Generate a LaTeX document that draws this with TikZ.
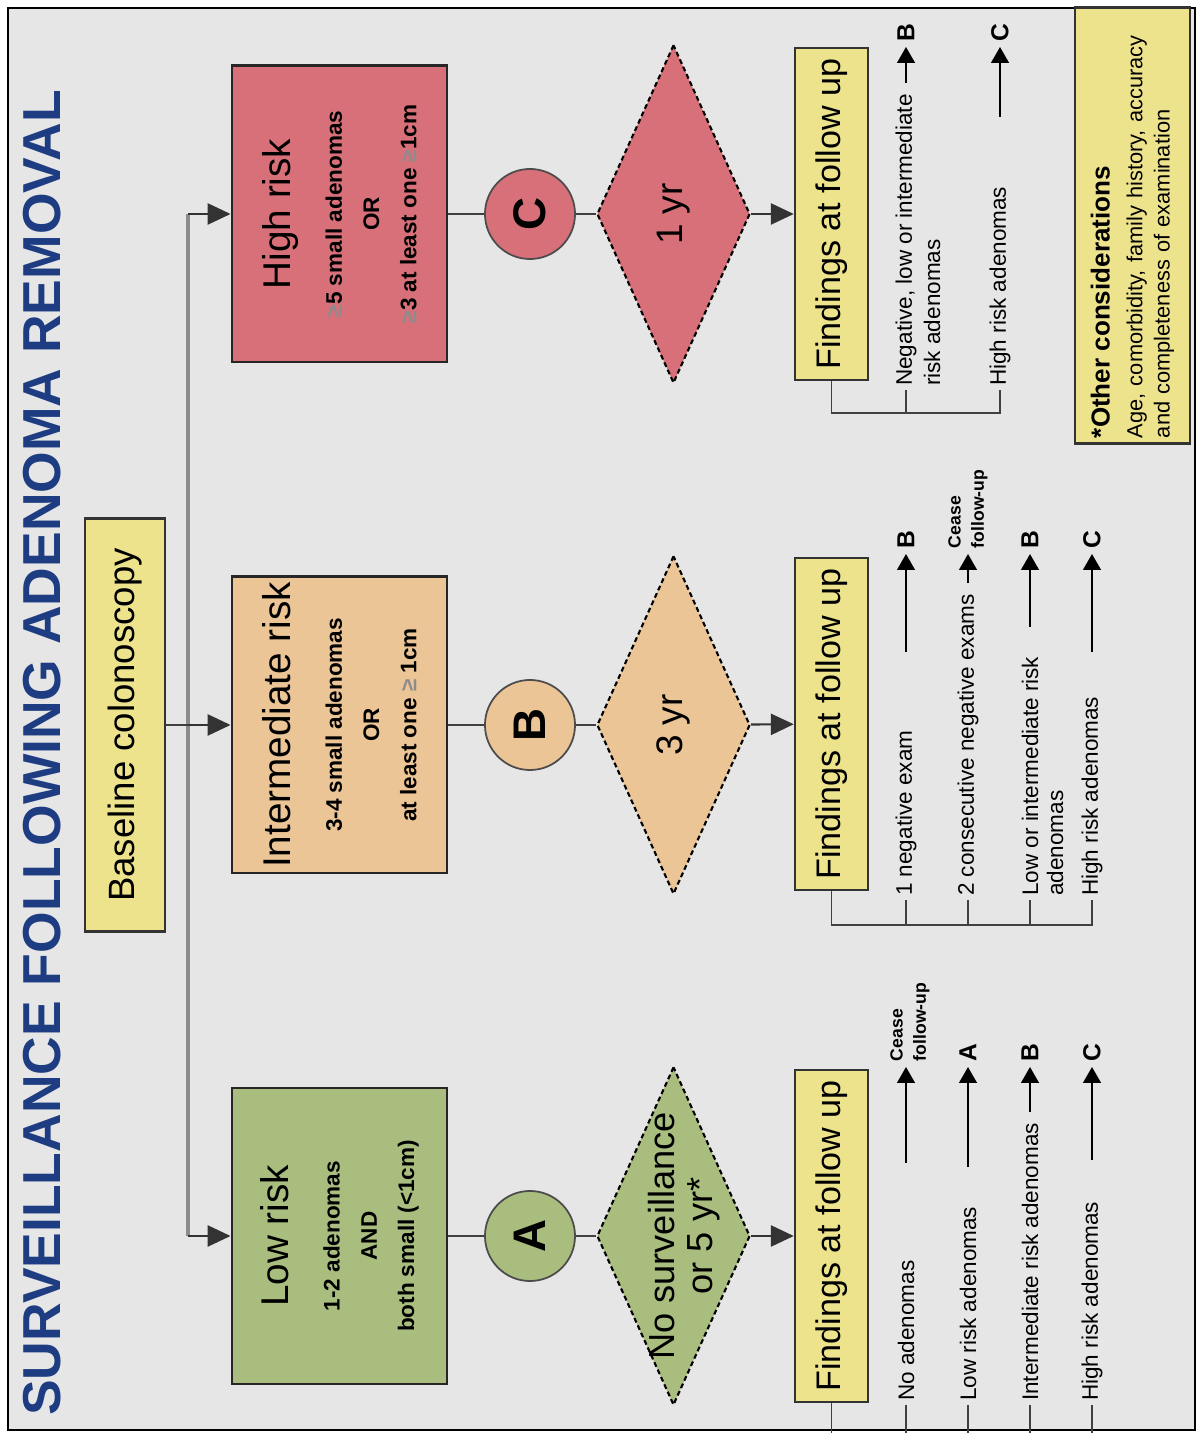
\documentclass[tikz,border=0pt]{standalone}
\usepackage{fontspec}
\setmainfont{Liberation Sans}
\usetikzlibrary{shapes.geometric,arrows.meta}

\definecolor{panel}{HTML}{E6E6E6}
\definecolor{note}{HTML}{EDE38C}
\definecolor{highrisk}{HTML}{D77079}
\definecolor{midrisk}{HTML}{ECC596}
\definecolor{lowrisk}{HTML}{A9BD7F}
\definecolor{heading}{HTML}{1E3C82}

\newcommand{\geqmark}{{\color{black!45}≥}}
\newcommand{\riskhead}{\mdseries\fontsize{11}{13}\selectfont}

\tikzset{
  title/.style={inner sep=0pt, text=heading, font=\bfseries\fontsize{15.2}{17}\selectfont},
  notebox/.style={draw=black!80, fill=note, line width=0.7pt, inner sep=2pt},
  riskbox/.style={draw=black!85, line width=0.8pt, minimum width=2.96cm, minimum height=2.15cm,
    inner sep=0pt, align=center, font=\bfseries\fontsize{6.4}{10.6}\selectfont},
  stage/.style={circle, draw=black!70, line width=0.5pt, minimum size=0.9cm, inner sep=0pt,
    font=\bfseries\fontsize{13}{15}\selectfont},
  interval/.style={diamond, draw=black, line width=0.6pt, dash pattern=on 1.4pt off 0.9pt,
    minimum width=3.38cm, minimum height=1.53cm, inner sep=0pt},
  intext/.style={align=center, inner sep=0pt, font=\fontsize{10.5}{11}\selectfont},
  findbox/.style={notebox, minimum width=3.32cm, minimum height=0.73cm, font=\fontsize{9.7}{11}\selectfont},
  item/.style={anchor=west, inner sep=1pt, font=\fontsize{6.4}{7.7}\selectfont},
  dest/.style={anchor=west, inner sep=1.5pt, font=\bfseries\fontsize{7}{8}\selectfont},
  cease/.style={anchor=west, inner sep=1.5pt, align=left, font=\bfseries\fontsize{5}{6.6}\selectfont},
  link/.style={draw=black!75, line width=0.5pt},
  spine/.style={draw=black!45, line width=1pt},
  arr/.style={draw=black, line width=0.6pt, -{Triangle[length=4.5pt,width=5pt]}},
  bigarr/.style={draw=black!80, line width=0.6pt, -{Triangle[length=6.5pt,width=6pt]}}
}

\begin{document}
\begin{tikzpicture}[x=0.01cm,y=0.01cm]
\useasboundingbox (0,0) rectangle (1199,1433);
\fill[white] (0,0) rectangle (1199,1433);
% whole chart is laid out lying on its side
\begin{scope}[rotate=90,transform shape]
 \draw[fill=panel,line width=0.8pt] (3,-8) rectangle (1425,-1195);
 \node[title] (ttl) at (680,-42) {SURVEILLANCE FOLLOWING ADENOMA REMOVAL};

 % baseline and spine
 \node[notebox, minimum width=4.13cm, minimum height=0.8cm, font=\fontsize{10.4}{12}\selectfont] (base) at (708,-125) {Baseline colonoscopy};
 \coordinate (sC) at (1219,-188);
 \coordinate (sB) at (708,-188);
 \coordinate (sA) at (197,-188);
 \draw[spine] (sC) -- (sA);
 \draw[link] (base) -- (sB);

 % risk groups
 \node[riskbox, fill=highrisk] (high) at (1219,-339.5) {{\riskhead High risk}\\[4pt] \geqmark5 small adenomas\\ OR\\ \geqmark3 at least one \geqmark1cm};
 \node[riskbox, fill=midrisk] (mid) at (708,-339.5) {{\riskhead Intermediate risk}\\[4pt] 3-4 small adenomas\\ OR\\ at least one \geqmark\ 1cm};
 \node[riskbox, fill=lowrisk] (low) at (197,-339.5) {{\riskhead Low risk}\\[4pt] 1-2 adenomas\\ AND\\ both small (<1cm)};
 \draw[bigarr] (sC) -- (high);
 \draw[bigarr] (sB) -- (mid);
 \draw[bigarr] (sA) -- (low);

 % stages and intervals
 \node[stage, fill=highrisk] (cC) at (1219,-530) {C};
 \node[stage, fill=midrisk] (cB) at (708,-530) {B};
 \node[stage, fill=lowrisk] (cA) at (197,-530) {A};
 \node[interval, fill=highrisk, label={[intext]center:1 yr}] (dC) at (1219,-673.5) {};
 \node[interval, fill=midrisk, label={[intext]center:3 yr}] (dB) at (708,-673.5) {};
 \node[interval, fill=lowrisk, label={[intext, yshift=-3pt, font=\fontsize{10.3}{10.6}\selectfont]center:{No surveillance\\or 5 yr*}}] (dA) at (197,-673.5) {};
 \node[findbox] (fC) at (1219,-831.5) {Findings at follow up};
 \node[findbox] (fB) at (709,-831.5) {Findings at follow up};
 \node[findbox] (fA) at (197,-831.5) {Findings at follow up};
 \draw[link] (high) -- (cC) -- (dC);
 \draw[link] (mid) -- (cB) -- (dB);
 \draw[link] (low) -- (cA) -- (dA);
 \draw[bigarr] (dC) -- (fC);
 \draw[bigarr] (dB) -- (fB);
 \draw[bigarr] (dA) -- (fA);

 % findings after C
 \node[item] (tC1) at (1043,-906) {Negative, low or intermediate};
 \node[item] (tC1b) at (1043,-932) {risk adenomas};
 \node[item] (tC2) at (1043,-1000) {High risk adenomas};
 \node[dest] (gC1) at (1386,-906) {B};
 \node[dest] (gC2) at (1386,-1000) {C};
 \coordinate (kC) at (1020,-831.5);
 \coordinate (kC1) at (1020,-906);
 \coordinate (kC2) at (1020,-1000);
 \coordinate (aC2) at (1316,-1000);
 \draw[link] (fC.west) -- (kC) -- (kC2) -- (tC2);
 \draw[link] (kC1) -- (tC1);
 \draw[arr, shorten <=2pt] (tC1) -- (gC1);
 \draw[arr] (aC2) -- (gC2);

 % findings after B
 \node[item] (tB1) at (533,-906) {1 negative exam};
 \node[item] (tB2) at (533,-968) {2 consecutive negative exams};
 \node[item] (tB3) at (533,-1030) {Low or intermediate risk};
 \node[item] (tB3b) at (533,-1055) {adenomas};
 \node[item] (tB4) at (533,-1092) {High risk adenomas};
 \node[dest] (gB1) at (879,-906) {B};
 \node[cease] (gB2) at (879,-968) {Cease\\follow-up};
 \node[dest] (gB3) at (879,-1030) {B};
 \node[dest] (gB4) at (879,-1092) {C};
 \coordinate (kB) at (508,-831.5);
 \coordinate (kB1) at (508,-906);
 \coordinate (kB2) at (508,-968);
 \coordinate (kB3) at (508,-1030);
 \coordinate (kB4) at (508,-1092);
 \coordinate (aB1) at (781,-906);
 \coordinate (aB3) at (806,-1030);
 \coordinate (aB4) at (781,-1092);
 \draw[link] (fB.west) -- (kB) -- (kB4) -- (tB4);
 \draw[link] (kB1) -- (tB1);
 \draw[link] (kB2) -- (tB2);
 \draw[link] (kB3) -- (tB3);
 \draw[arr] (aB1) -- (gB1);
 \draw[arr, shorten <=2pt] (tB2) -- (gB2);
 \draw[arr] (aB3) -- (gB3);
 \draw[arr] (aB4) -- (gB4);

 % findings after A
 \node[item] (tA1) at (28,-906) {No adenomas};
 \node[item] (tA2) at (28,-968) {Low risk adenomas};
 \node[item] (tA3) at (28,-1030) {Intermediate risk adenomas};
 \node[item] (tA4) at (28,-1092) {High risk adenomas};
 \node[cease] (gA1) at (366,-910) {Cease\\follow-up};
 \node[dest] (gA2) at (366,-968) {A};
 \node[dest] (gA3) at (366,-1030) {B};
 \node[dest] (gA4) at (366,-1092) {C};
 \coordinate (kA) at (-6,-831.5);
 \coordinate (kA1) at (-6,-906);
 \coordinate (kA2) at (-6,-968);
 \coordinate (kA3) at (-6,-1030);
 \coordinate (kA4) at (-6,-1092);
 \coordinate (aA1) at (270,-906);
 \coordinate (aA2) at (266,-968);
 \coordinate (aA4) at (273,-1092);
 \draw[link] (fA.west) -- (kA) -- (kA4) -- (tA4);
 \draw[link] (kA1) -- (tA1);
 \draw[link] (kA2) -- (tA2);
 \draw[link] (kA3) -- (tA3);
 \draw[arr] (aA1) -- (gA1.west |- aA1);
 \draw[arr] (aA2) -- (gA2);
 \draw[arr, shorten <=2pt] (tA3) -- (gA3);
 \draw[arr] (aA4) -- (gA4);

 % footnote box
 \node[notebox, inner sep=1.5pt, text width=4.25cm, minimum height=1.15cm, align=left, font=\fontsize{6.2}{7.8}\selectfont] (other) at (1207.5,-1132.5)
   {{\bfseries\fontsize{7.4}{9}\selectfont *Other considerations}\\[1.5pt] Age, comorbidity, family history, accuracy\\ and completeness of examination};
\end{scope}
\end{tikzpicture}
\end{document}
